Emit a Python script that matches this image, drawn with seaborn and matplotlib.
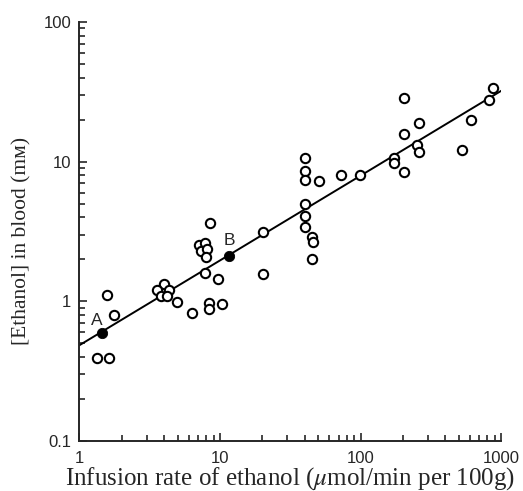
import numpy as np
import pandas as pd
import matplotlib
matplotlib.use("Agg")
import matplotlib.pyplot as plt
import matplotlib.ticker as mticker
import seaborn as sns

# --- data ---
rate = [1.33, 1.62, 1.57, 1.76,
        4.01, 3.58, 4.36, 3.82, 4.22,
        4.97, 6.36, 8.37, 8.37, 10.4, 9.75, 7.88,
        7.06, 7.88, 7.38, 8.10, 8.01, 8.55,
        20.1, 20.1,
        40.3, 40.3, 40.3, 50.8, 40.3, 40.3, 40.3, 45.0, 45.8, 45.0,
        72.6, 99.7,
        173, 174,
        205, 205, 205,
        259, 253, 259,
        531, 615, 818, 880]
ethanol = [0.39, 0.39, 1.11, 0.80,
           1.33, 1.20, 1.20, 1.09, 1.09,
           0.99, 0.82, 0.98, 0.88, 0.96, 1.44, 1.59,
           2.54, 2.63, 2.29, 2.36, 2.07, 3.62,
           3.15, 1.57,
           10.6, 8.6, 7.38, 7.26, 4.97, 4.08, 3.39, 2.90, 2.67, 2.01,
           8.02, 8.02,
           10.6, 9.72,
           28.4, 15.9, 8.38,
           18.8, 13.1, 11.8,
           12.1, 19.9, 27.6, 33.8]

marked_names = ["A", "B"]
marked_rate = [1.45, 11.6]
marked_ethanol = [0.59, 2.12]

fit_rate = [1.0, 1050.0]
fit_ethanol = [0.485, 33.1]

pts = pd.DataFrame({"rate": rate, "ethanol": ethanol})
marked = pd.DataFrame({"name": marked_names, "rate": marked_rate, "ethanol": marked_ethanol})
fit = pd.DataFrame({"rate": fit_rate, "ethanol": fit_ethanol})

sns.set_style("ticks")
plt.rcParams["font.family"] = ["Liberation Sans", "DejaVu Sans"]
plt.rcParams["mathtext.fontset"] = "stix"

fig = plt.figure(figsize=(5.23, 4.91), dpi=100)
ax = fig.add_axes([0.152, 0.102, 0.806, 0.853])

sns.lineplot(data=fit, x="rate", y="ethanol", color="black", linewidth=1.4, ax=ax)
sns.scatterplot(data=pts, x="rate", y="ethanol", marker="o", s=45,
                facecolor="white", edgecolor="black", linewidth=1.5, ax=ax, zorder=3)
sns.scatterplot(data=marked, x="rate", y="ethanol", marker="o", s=55,
                color="black", edgecolor="black", ax=ax, zorder=4)

offsets = {"A": (-4, 9), "B": (0, 11)}
for _, r in marked.iterrows():
    ax.annotate(r["name"], (r["rate"], r["ethanol"]), xytext=offsets[r["name"]],
                textcoords="offset points", ha="center", va="center", fontsize=12.5)

ax.set_xscale("log")
ax.set_yscale("log")
ax.set_xlim(1, 1000)
ax.set_ylim(0.1, 100)

fmt = mticker.FuncFormatter(lambda v, p: f"{v:g}")
ax.xaxis.set_major_formatter(fmt)
ax.yaxis.set_major_formatter(fmt)
ax.xaxis.set_minor_locator(mticker.LogLocator(base=10, subs=np.arange(2, 10)))
ax.yaxis.set_minor_locator(mticker.LogLocator(base=10, subs=np.arange(2, 10)))
ax.xaxis.set_minor_formatter(mticker.NullFormatter())
ax.yaxis.set_minor_formatter(mticker.NullFormatter())

ax.tick_params(which="major", direction="in", length=6, width=1.2, labelsize=12, pad=6)
ax.tick_params(which="minor", direction="in", length=4, width=1.2)
ax.tick_params(axis="x", which="major", pad=7)

sns.despine(ax=ax)
for s in ["left", "bottom"]:
    ax.spines[s].set_linewidth(1.4)

ax.set_xlabel(r"Infusion rate of ethanol ($\mu$mol/min per 100g)",
              family=["Liberation Serif", "DejaVu Serif"], fontsize=18, labelpad=0)
ax.set_ylabel("[Ethanol] in blood (mᴍ)", family=["Liberation Serif", "DejaVu Serif"],
              fontsize=15.5)
ax.yaxis.set_label_coords(-0.113, 0.477)

fig.savefig("out.png", dpi=100)
